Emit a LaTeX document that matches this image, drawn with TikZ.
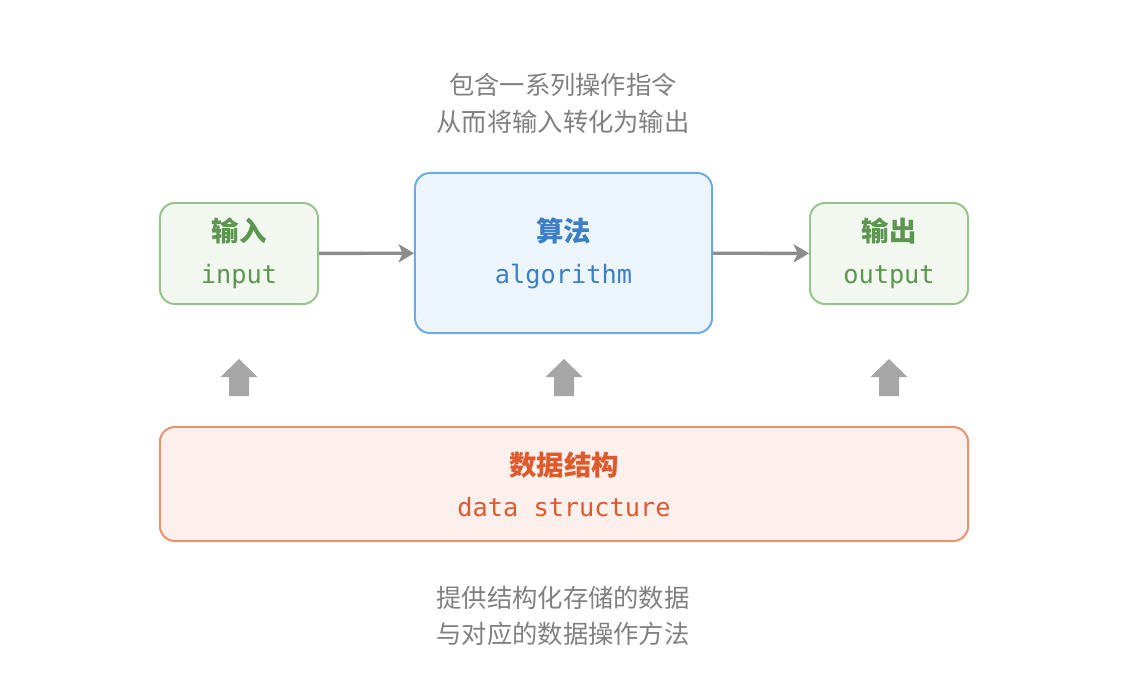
\documentclass[tikz,border=0pt]{standalone}
\usepackage{fontspec}
\setmonofont{DejaVu Sans Mono}
\newfontfamily\cjk{Noto Sans CJK SC}
\usepackage{xcolor}
\definecolor{hagreen}{RGB}{92,150,80}
\definecolor{hagreenline}{RGB}{150,196,140}
\definecolor{hagreenfill}{RGB}{242,248,240}
\definecolor{hablue}{RGB}{61,127,196}
\definecolor{hablueline}{RGB}{108,170,228}
\definecolor{habluefill}{RGB}{237,245,252}
\definecolor{haorange}{RGB}{222,90,44}
\definecolor{haorangeline}{RGB}{232,145,108}
\definecolor{haorangefill}{RGB}{253,240,236}
\definecolor{hagray}{RGB}{128,128,128}
\definecolor{haarrow}{RGB}{140,140,140}
\definecolor{hablock}{RGB}{166,166,166}
\usetikzlibrary{arrows.meta, positioning}

\begin{document}
\begin{tikzpicture}[x=0.025cm, y=-0.025cm,
    box/.style={rounded corners=0.375cm, line width=1.4pt, align=center,
                inner sep=0pt, font=\fontsize{18}{24}\selectfont},
    note/.style={text=hagray, align=center, font=\fontsize{18}{26}\selectfont\cjk},
    flow/.style={haarrow, line width=2.4pt, -{Stealth[length=11pt, width=13pt, inset=3pt]}}]

\useasboundingbox (0,0) rectangle (1142,678);

% === Top note ===
\node[note] (topnote) at (563,103.5) {包含一系列操作指令\\从而将输入转化为输出};

% === Input / algorithm / output ===
\node[box, draw=hagreenline, fill=hagreenfill, text=hagreen,
      minimum width=3.95cm, minimum height=2.525cm]
      (input) at (239,253.5) {{\cjk\bfseries\fontsize{19.5}{24}\selectfont 输入}\\[6pt]\ttfamily input};
\node[box, draw=hablueline, fill=habluefill, text=hablue,
      minimum width=7.425cm, minimum height=4cm]
      (algo) at (563.5,253) {{\cjk\bfseries\fontsize{19.5}{24}\selectfont 算法}\\[6pt]\ttfamily algorithm};
\node[box, draw=hagreenline, fill=hagreenfill, text=hagreen,
      minimum width=3.95cm, minimum height=2.525cm]
      (output) at (889,253.5) {{\cjk\bfseries\fontsize{19.5}{24}\selectfont 输出}\\[6pt]\ttfamily output};

\draw[flow] (input) -- (algo);
\draw[flow] (algo) -- (output);

% === Data structure ===
\node[box, draw=haorangeline, fill=haorangefill, text=haorange,
      minimum width=20.2cm, minimum height=2.85cm]
      (data) at (564,484) {{\cjk\bfseries\fontsize{19.5}{24}\selectfont 数据结构}\\[5pt]\ttfamily data structure};

% === Block arrows ===
\foreach \x in {239,564,889}
  \fill[hablock, shift={(\x,0)}] (-18.5,377) -- (0,359) -- (18.5,377) -- (10,377)
       -- (10,396) -- (-10,396) -- (-10,377) -- cycle;

% === Bottom note ===
\node[note] (botnote) at (563,616) {提供结构化存储的数据\\与对应的数据操作方法};

\end{tikzpicture}
\end{document}
